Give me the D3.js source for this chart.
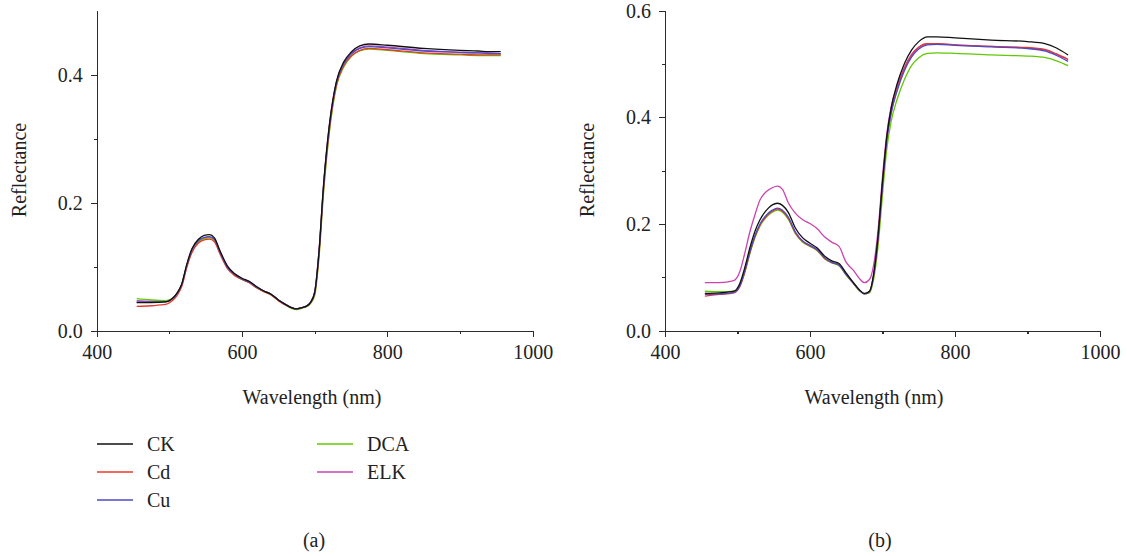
<!DOCTYPE html>
<html>
<head>
<meta charset="utf-8">
<script src="https://cdn.jsdelivr.net/npm/d3@7"></script>
<style>
  html, body { margin: 0; padding: 0; background: #fff; }
  svg { display: block; }
  .axis path, .axis line { stroke: #2b2b2b; stroke-width: 1.2; shape-rendering: crispEdges; }
  .axis text { font-family: "Liberation Serif", "DejaVu Serif", serif; font-size: 20px; fill: #222; }
  .label { font-family: "Liberation Serif", "DejaVu Serif", serif; font-size: 20px; fill: #222; }
</style>
</head>
<body>
<svg id="chart" width="1127" height="556"></svg>
<script>
// wavelengths (nm) shared by every spectrum
var wavelength = [455, 475, 495, 503, 510, 517, 524, 531, 540, 548, 555, 562, 570, 580, 590,
  600, 610, 620, 630, 640, 650, 660, 668, 675, 682, 688, 694, 700, 706, 712, 720, 730, 740,
  750, 762, 775, 800, 850, 900, 925, 940, 956];

var seriesNames = ['CK', 'Cd', 'Cu', 'DCA', 'ELK'];
var seriesColors = ['#111111', '#e8382e', '#4b4bc4', '#62c800', '#cc42ae'];

// panel (a)
var ckA = [0.044, 0.044, 0.045, 0.049, 0.058, 0.073, 0.104, 0.128, 0.143, 0.149, 0.150, 0.145, 0.124, 0.101, 0.089,
  0.082, 0.077, 0.069, 0.062, 0.057, 0.048, 0.041, 0.036, 0.034, 0.036, 0.038, 0.044, 0.060, 0.125, 0.225, 0.320, 0.390, 0.420,
  0.435, 0.445, 0.448, 0.446, 0.441, 0.438, 0.437, 0.436, 0.436];
var cdA = [0.038, 0.039, 0.041, 0.046, 0.054, 0.069, 0.099, 0.122, 0.137, 0.142, 0.143, 0.139, 0.119, 0.097, 0.086,
  0.080, 0.075, 0.067, 0.061, 0.056, 0.047, 0.040, 0.036, 0.034, 0.036, 0.038, 0.043, 0.058, 0.120, 0.218, 0.312, 0.384, 0.414,
  0.429, 0.438, 0.441, 0.439, 0.434, 0.432, 0.431, 0.431, 0.431];
var cuA = [0.045, 0.045, 0.045, 0.049, 0.057, 0.072, 0.102, 0.126, 0.141, 0.146, 0.147, 0.143, 0.122, 0.099, 0.088,
  0.081, 0.076, 0.068, 0.062, 0.057, 0.048, 0.041, 0.036, 0.034, 0.036, 0.038, 0.044, 0.060, 0.124, 0.223, 0.317, 0.388, 0.417,
  0.432, 0.441, 0.444, 0.442, 0.437, 0.435, 0.434, 0.433, 0.433];
var dcaA = [0.050, 0.048, 0.047, 0.050, 0.057, 0.071, 0.101, 0.124, 0.139, 0.144, 0.145, 0.141, 0.121, 0.098, 0.087,
  0.080, 0.075, 0.067, 0.061, 0.056, 0.047, 0.040, 0.035, 0.033, 0.035, 0.037, 0.042, 0.055, 0.115, 0.212, 0.308, 0.382, 0.412,
  0.428, 0.437, 0.440, 0.438, 0.433, 0.431, 0.430, 0.430, 0.430];
var elkA = [0.047, 0.046, 0.046, 0.049, 0.057, 0.072, 0.102, 0.125, 0.140, 0.145, 0.146, 0.142, 0.122, 0.099, 0.088,
  0.081, 0.076, 0.068, 0.062, 0.057, 0.048, 0.041, 0.036, 0.034, 0.036, 0.038, 0.044, 0.061, 0.125, 0.224, 0.318, 0.389, 0.418,
  0.433, 0.442, 0.445, 0.443, 0.438, 0.435, 0.434, 0.434, 0.433];

// panel (b)
var ckB = [0.070, 0.071, 0.074, 0.088, 0.118, 0.155, 0.186, 0.208, 0.226, 0.236, 0.239, 0.235, 0.222, 0.192, 0.174,
  0.164, 0.155, 0.140, 0.131, 0.126, 0.108, 0.090, 0.077, 0.070, 0.074, 0.108, 0.180, 0.280, 0.365, 0.418, 0.462, 0.500, 0.526,
  0.542, 0.551, 0.551, 0.549, 0.545, 0.542, 0.538, 0.530, 0.517];
var cdB = [0.065, 0.068, 0.071, 0.082, 0.110, 0.146, 0.176, 0.198, 0.215, 0.224, 0.228, 0.224, 0.211, 0.183, 0.167,
  0.159, 0.151, 0.136, 0.128, 0.123, 0.105, 0.089, 0.076, 0.069, 0.073, 0.105, 0.175, 0.274, 0.360, 0.410, 0.452, 0.490, 0.516,
  0.531, 0.538, 0.538, 0.536, 0.533, 0.531, 0.527, 0.519, 0.509];
var cuB = [0.068, 0.069, 0.072, 0.084, 0.112, 0.148, 0.178, 0.200, 0.217, 0.226, 0.230, 0.226, 0.213, 0.185, 0.168,
  0.160, 0.152, 0.137, 0.128, 0.123, 0.105, 0.089, 0.076, 0.069, 0.073, 0.106, 0.176, 0.273, 0.358, 0.408, 0.449, 0.487, 0.513,
  0.528, 0.536, 0.537, 0.535, 0.532, 0.529, 0.524, 0.516, 0.505];
var dcaB = [0.074, 0.073, 0.074, 0.083, 0.109, 0.144, 0.174, 0.196, 0.213, 0.222, 0.226, 0.222, 0.209, 0.182, 0.166,
  0.158, 0.150, 0.135, 0.127, 0.122, 0.104, 0.088, 0.075, 0.069, 0.071, 0.098, 0.160, 0.255, 0.342, 0.393, 0.433, 0.470, 0.497,
  0.512, 0.520, 0.521, 0.520, 0.517, 0.515, 0.512, 0.506, 0.497];
var elkB = [0.090, 0.090, 0.094, 0.110, 0.145, 0.185, 0.217, 0.245, 0.261, 0.268, 0.271, 0.265, 0.240, 0.220, 0.208,
  0.201, 0.191, 0.176, 0.166, 0.158, 0.128, 0.113, 0.098, 0.090, 0.096, 0.125, 0.190, 0.288, 0.370, 0.420, 0.458, 0.493, 0.518,
  0.532, 0.538, 0.538, 0.536, 0.533, 0.530, 0.526, 0.518, 0.508];

var xTicks = [400, 600, 800, 1000];
var xMinorTicks = [500, 700, 900];
var yTicksA = [0, 0.2, 0.4];
var yMinorTicksA = [0.1, 0.3];
var yTicksB = [0, 0.2, 0.4, 0.6];
var yMinorTicksB = [0.1, 0.3, 0.5];

var serif = '"Liberation Serif", "DejaVu Serif", serif';
var svg = d3.select('#chart');

drawPanel({
  left: 96.7, right: 532.7, top: 10.7, bottom: 330.7,
  yMax: 0.5, yTicks: yTicksA, yMinor: yMinorTicksA,
  series: [ckA, cdA, cuA, dcaA, elkA],
  titleX: 312, ylabelX: 19, tag: '(a)', tagX: 314
});
drawPanel({
  left: 665, right: 1100, top: 10.7, bottom: 330.7,
  yMax: 0.6, yTicks: yTicksB, yMinor: yMinorTicksB,
  series: [ckB, cdB, cuB, dcaB, elkB],
  titleX: 874, ylabelX: 587, tag: '(b)', tagX: 880
});
drawLegend();

function drawPanel(p) {
  var x = d3.scaleLinear().domain([400, 1000]).range([p.left, p.right]);
  var y = d3.scaleLinear().domain([0, p.yMax]).range([p.bottom, p.top]);

  // minor ticks first, majors with labels on top
  svg.append('g')
    .attr('class', 'axis')
    .attr('transform', 'translate(0,' + p.bottom + ')')
    .call(d3.axisBottom(x).tickValues(xMinorTicks).tickSize(3).tickFormat(''))
    .select('.domain').remove();
  svg.append('g')
    .attr('class', 'axis')
    .attr('transform', 'translate(0,' + p.bottom + ')')
    .call(d3.axisBottom(x).tickValues(xTicks).tickSize(6).tickSizeOuter(0).tickPadding(8).tickFormat(d3.format('d')))
    .attr('font-family', serif)
    .attr('font-size', 20);

  svg.append('g')
    .attr('class', 'axis')
    .attr('transform', 'translate(' + p.left + ',0)')
    .call(d3.axisLeft(y).tickValues(p.yMinor).tickSize(3).tickFormat(''))
    .select('.domain').remove();
  svg.append('g')
    .attr('class', 'axis')
    .attr('transform', 'translate(' + p.left + ',0)')
    .call(d3.axisLeft(y).tickValues(p.yTicks).tickSize(6).tickSizeOuter(0).tickPadding(8).tickFormat(d3.format('.1f')))
    .attr('font-family', serif)
    .attr('font-size', 20);

  var line = d3.line()
    .curve(d3.curveMonotoneX)
    .x(function (d, i) { return x(wavelength[i]); })
    .y(function (d) { return y(d); });

  // draw so that the black CK ends up on top like in the figure
  var order = [4, 3, 1, 2, 0];
  order.forEach(function (k) {
    svg.append('path')
      .datum(p.series[k])
      .attr('fill', 'none')
      .attr('stroke', seriesColors[k])
      .attr('stroke-width', 1.3)
      .attr('d', line);
  });

  svg.append('text')
    .attr('class', 'label')
    .attr('x', p.titleX)
    .attr('y', 404)
    .attr('text-anchor', 'middle')
    .text('Wavelength (nm)');

  svg.append('text')
    .attr('class', 'label')
    .attr('transform', 'translate(' + (p.ylabelX + 7) + ',170) rotate(-90)')
    .attr('text-anchor', 'middle')
    .text('Reflectance');

  svg.append('text')
    .attr('class', 'label')
    .attr('x', p.tagX)
    .attr('y', 547)
    .attr('text-anchor', 'middle')
    .text(p.tag);
}

function drawLegend() {
  var cols = [[0, 1, 2], [3, 4]];
  var colX = [97, 317];
  var rowY = [444, 472, 500];
  cols.forEach(function (col, c) {
    col.forEach(function (k, r) {
      var g = svg.append('g').attr('transform', 'translate(' + colX[c] + ',' + rowY[r] + ')');
      g.append('line')
        .attr('x1', 0).attr('x2', 36)
        .attr('y1', 0).attr('y2', 0)
        .attr('stroke', seriesColors[k])
        .attr('stroke-width', 1.3);
      g.append('text')
        .attr('class', 'label')
        .attr('x', 50)
        .attr('y', 7)
        .text(seriesNames[k]);
    });
  });
}
</script>
</body>
</html>
